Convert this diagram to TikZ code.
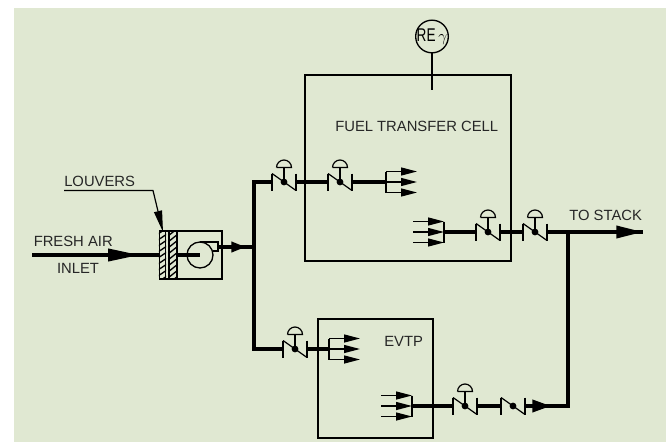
\documentclass[tikz,border=0pt]{standalone}
\usepackage{fontspec}
\setmainfont{Liberation Sans}
\usetikzlibrary{arrows.meta}
\definecolor{bgc}{HTML}{E0E8D2}
\tikzset{
  x=0.75pt,y=-0.75pt,
  thin box/.style={line width=1pt,black},
  mainline/.style={line width=2.9pt,black},
  pipe/.style={line width=2.7pt,black},
  branchline/.style={line width=1pt,black},
  inlethead/.style={-{Triangle[length=24pt,width=9pt]}},
  flowhead/.style={-{Triangle[length=20pt,width=9pt]}},
  shorthead/.style={-{Triangle[length=11pt,width=7.5pt]}},
  midhead/.style={-{Triangle[length=14pt,width=9pt]}},
  smallflow/.style={-{Triangle[length=12pt,width=6pt]}},
  lab/.style={font=\fontsize{11.1pt}{13pt}\selectfont,inner sep=0pt,text=black!85},
  checkvalve/.pic={
    \coordinate (-w) at (-12,0);
    \coordinate (-e) at (12,0);
    \draw[line width=0.9pt] (-12,-8.5) -- (-12,8.5);
    \draw[line width=0.9pt] (12,-8.5) -- (12,8.5);
    \draw[line width=0.9pt] (-12,-8.5) -- (12,8.5);
    \fill (0,0) circle (3.4);
  },
  actuator/.pic={
    \draw[line width=2.2pt] (0,0) -- (0,-14);
    \draw[line width=0.9pt] (-7.5,-14.5) -- (7.5,-14.5) arc[start angle=0,end angle=-180,radius=7.5];
  },
  forkout/.pic={
    \coordinate (-in) at (0,0);
    \draw[branchline] (0,-10.5) -- (0,10.5);
    \foreach \d in {-10.5,0,10.5}
      \draw[branchline,smallflow] (0,\d) -- (31,\d);
  },
  forkin/.pic={
    \coordinate (-out) at (0,0);
    \draw[branchline] (0,-10.5) -- (0,10.5);
    \foreach \d in {-10.5,0,10.5}
      \draw[branchline,smallflow] (-31,\d) -- (0,\d);
  },
}
\begin{document}
\begin{tikzpicture}
\useasboundingbox (0,0) rectangle (666,442);
\fill[white] (0,0) rectangle (666,442);
\fill[bgc] (14,8) rectangle (666,442);

% enclosures
\node[draw,thin box,minimum width=154.5pt,minimum height=139.5pt,inner sep=0pt] (cell) at (408,168) {};
\node[draw,thin box,minimum width=86.25pt,minimum height=89.25pt,inner sep=0pt] (evtp) at (375.5,378.5) {};
\node[draw,line width=1pt,circle,minimum size=24.5pt,inner sep=0pt] (re) at (432,36.5) {};
\node[inner sep=0pt,font=\fontsize{12pt}{13pt}\selectfont,text=black] (relabel) at (432,37) {\scalebox{0.85}[1.15]{RE}\,$\gamma$};
\coordinate (reEnd) at (432,90);
\draw[thin box] (re.south) -- (reEnd);

% fixed points
\coordinate (inletStart) at (32,255);
\coordinate (inletTip) at (140,255);
\coordinate (outletStart) at (218,247);
\coordinate (outletTip) at (246,247);
\coordinate (mainTee) at (254,247);
\coordinate (mainTop) at (254,182);
\coordinate (mainBottom) at (254,349);
\coordinate (stackTip) at (643,232);
\coordinate (stackTee) at (568,232);
\coordinate (returnCorner) at (568,406);
\coordinate (returnTip) at (551,406);

% louver and fan
\node[draw,thin box,minimum width=46.5pt,minimum height=36pt,inner sep=0pt] (fanbox) at (191,255) {};
\node[draw,thin box,fill=bgc,minimum width=4.5pt,minimum height=36pt,inner sep=0pt] (louvA) at (162.5,255) {};
\node[draw,thin box,fill=bgc,minimum width=6pt,minimum height=36pt,inner sep=0pt] (louvB) at (173,255) {};
\begin{scope}
  \clip (louvA.south west) rectangle (louvA.north east);
  \foreach \k in {0,...,9} \draw[line width=1pt] (158,228+\k*6) -- (167,222+\k*6);
\end{scope}
\begin{scope}
  \clip (louvB.south west) rectangle (louvB.north east);
  \foreach \k in {0,...,9} \draw[line width=1pt] (168,230+\k*6) -- (178,222+\k*6);
\end{scope}
\node[draw,line width=1pt,circle,minimum size=19.5pt,inner sep=0pt] (fan) at (200,255) {};
\draw[line width=1pt] (200,242) -- (218,242) -- (218,251) -- (212.5,251);

% valves
\pic (v1) at (284,182) {checkvalve};
\pic at (284,182) {actuator};
\pic (v2) at (340,182) {checkvalve};
\pic at (340,182) {actuator};
\pic (f1) at (386,182) {forkout};
\pic (f2) at (444,232) {forkin};
\pic (v3) at (488,232) {checkvalve};
\pic at (488,232) {actuator};
\pic (v4) at (535,232) {checkvalve};
\pic at (535,232) {actuator};
\pic (v5) at (295,349) {checkvalve};
\pic at (295,349) {actuator};
\pic (f3) at (329,349) {forkout};
\pic (f4) at (412,406) {forkin};
\pic (v6) at (465,406) {checkvalve};
\pic at (465,406) {actuator};
\pic (v7) at (513,406) {checkvalve};

% pipes
\draw[mainline] (inletStart) -- (louvA.west);
\draw[mainline,inlethead] (inletStart) -- (inletTip);
\draw[pipe] (louvB.east) -- (fan.center);
\draw[pipe] (outletStart) -- (mainTee);
\draw[pipe,shorthead] (outletStart) -- (outletTip);
\draw[mainline,line join=miter] (v1-w) -- (mainTop) -- (mainBottom) -- (v5-w);
\draw[pipe] (v1-e) -- (v2-w);
\draw[pipe] (v2-e) -- (f1-in);
\draw[pipe] (f2-out) -- (v3-w);
\draw[pipe] (v3-e) -- (v4-w);
\draw[pipe] (v4-e) -- (stackTip);
\draw[pipe,flowhead] (stackTee) -- (stackTip);
\draw[pipe] (v5-e) -- (f3-in);
\draw[pipe] (f4-out) -- (v6-w);
\draw[pipe] (v6-e) -- (v7-w);
\draw[pipe] (v7-e) -- (returnCorner);
\draw[pipe,midhead] (v7-e) -- (returnTip);
\draw[mainline,line join=miter,line cap=rect] (returnCorner) -- (stackTee);

% labels
\node[lab,anchor=west] (louvers) at (64,181) {LOUVERS};
\node[lab,anchor=west] (fresh) at (33.5,241) {FRESH AIR};
\node[lab,anchor=center] (inlet) at (78,268.5) {INLET};
\node[lab,anchor=west] (fuel) at (335,126) {FUEL TRANSFER CELL};
\node[lab,anchor=west] (stack) at (569,215.5) {TO STACK};
\node[lab,anchor=west] (evtplab) at (384,341) {EVTP};
\coordinate (leaderStart) at (64,190.5);
\coordinate (leaderBend) at (153,190.5);
\coordinate (leaderTip) at (163,232);
\draw[line width=0.9pt,-{Triangle[length=16pt,width=6pt]}] (leaderStart) -- (leaderBend) -- (leaderTip);
\end{tikzpicture}
\end{document}
